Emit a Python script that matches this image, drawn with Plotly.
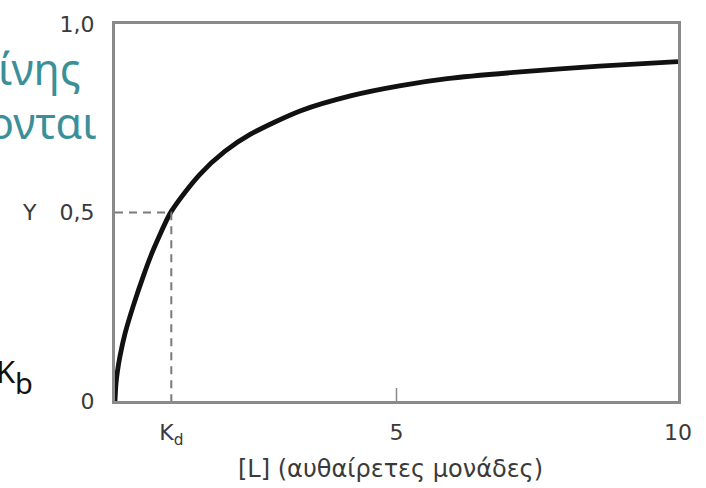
import plotly.graph_objects as go

# Ligand concentration [L] (arbitrary units) and fractional saturation Y
L_vals = [0, 0.018, 0.045, 0.09, 0.18, 0.33, 0.5, 0.65, 0.75, 1.0, 1.5, 1.95, 2.4, 3.3, 4.2, 5.05, 5.9, 7.2, 8.6, 10.0]
Y_vals = [0, 0.046, 0.08, 0.12, 0.18, 0.255, 0.33, 0.39, 0.425, 0.503, 0.60, 0.662, 0.707, 0.77, 0.81, 0.836, 0.855, 0.873, 0.888, 0.90]

Kd = 1.0
Y_half = 0.5
x_tick_vals = [Kd, 5, 10]
x_tick_text = ["K<sub>d</sub>", "5", "10"]
y_tick_vals = [0, 0.5, 1.0]
y_tick_text = ["0", "0,5", "1,0"]
x_title = "[L] (αυθαίρετες μονάδες)"
y_title = "Y"

AX = "#8a8a8a"
TXT = "#3a3a3a"
TEAL = "#3a8f99"
FONT = "DejaVu Sans"
SLIDE_FONT = "Noto Sans"

fig = go.Figure()
fig.add_trace(go.Scatter(x=L_vals, y=Y_vals, mode="lines",
                         line=dict(color="#111111", width=4.8, shape="spline", smoothing=0.8),
                         hoverinfo="skip", showlegend=False))
# dashed guide lines at Kd
fig.add_trace(go.Scatter(x=[0, Kd, Kd], y=[Y_half, Y_half, 0], mode="lines",
                         line=dict(color="#7a7a7a", width=2, dash="8px,6px"),
                         hoverinfo="skip", showlegend=False))

fig.update_layout(
    width=706, height=488,
    margin=dict(l=115, r=28, t=15, b=87),
    paper_bgcolor="white", plot_bgcolor="white",
    font=dict(family=FONT, color=TXT, size=22),
    xaxis=dict(range=[0, 10], showgrid=False, zeroline=False, showline=True, mirror=True,
               linecolor=AX, linewidth=3, tickvals=x_tick_vals, ticktext=x_tick_text,
               ticks="", ticklabelstandoff=10, tickfont=dict(size=22, color=TXT, family=FONT)),
    yaxis=dict(range=[0, 1], showgrid=False, zeroline=False, showline=True, mirror=True,
               linecolor=AX, linewidth=3, tickvals=y_tick_vals, ticktext=y_tick_text,
               ticks="", ticklabelstandoff=13, tickfont=dict(size=22, color=TXT, family=FONT)),
)

# small inward tick at 5
fig.add_shape(type="line", xref="x", yref="paper", x0=5, x1=5, ysizemode="pixel", yanchor=0,
              y0=0, y1=13, line=dict(color=AX, width=1.5))

fig.add_annotation(text=x_title, xref="paper", yref="paper", x=0.49, y=-0.181,
                   showarrow=False, xanchor="center", yanchor="middle",
                   font=dict(size=24, color=TXT, family=FONT))
fig.add_annotation(text=y_title, xref="paper", yref="y", x=-0.151, y=Y_half,
                   showarrow=False, xanchor="center", yanchor="middle",
                   font=dict(size=22, color=TXT, family=FONT))

# clipped slide text on the left
fig.add_annotation(text="ίνης", xref="paper", yref="paper", x=-0.056, y=0.883,
                   showarrow=False, xanchor="right", yanchor="middle",
                   font=dict(size=43, color=TEAL, family=SLIDE_FONT))
fig.add_annotation(text="ονται", xref="paper", yref="paper", x=-0.029, y=0.738,
                   showarrow=False, xanchor="right", yanchor="middle",
                   font=dict(size=43, color=TEAL, family=SLIDE_FONT))
fig.add_annotation(text="K", xref="paper", yref="paper", x=-0.173, y=0.08,
                   showarrow=False, xanchor="right", yanchor="middle",
                   font=dict(size=31, color="#111111", family=SLIDE_FONT))
fig.add_annotation(text="b", xref="paper", yref="paper", x=-0.182, y=0.05,
                   showarrow=False, xanchor="left", yanchor="middle",
                   font=dict(size=29, color="#111111", family=SLIDE_FONT))

fig.write_html("out.html")
